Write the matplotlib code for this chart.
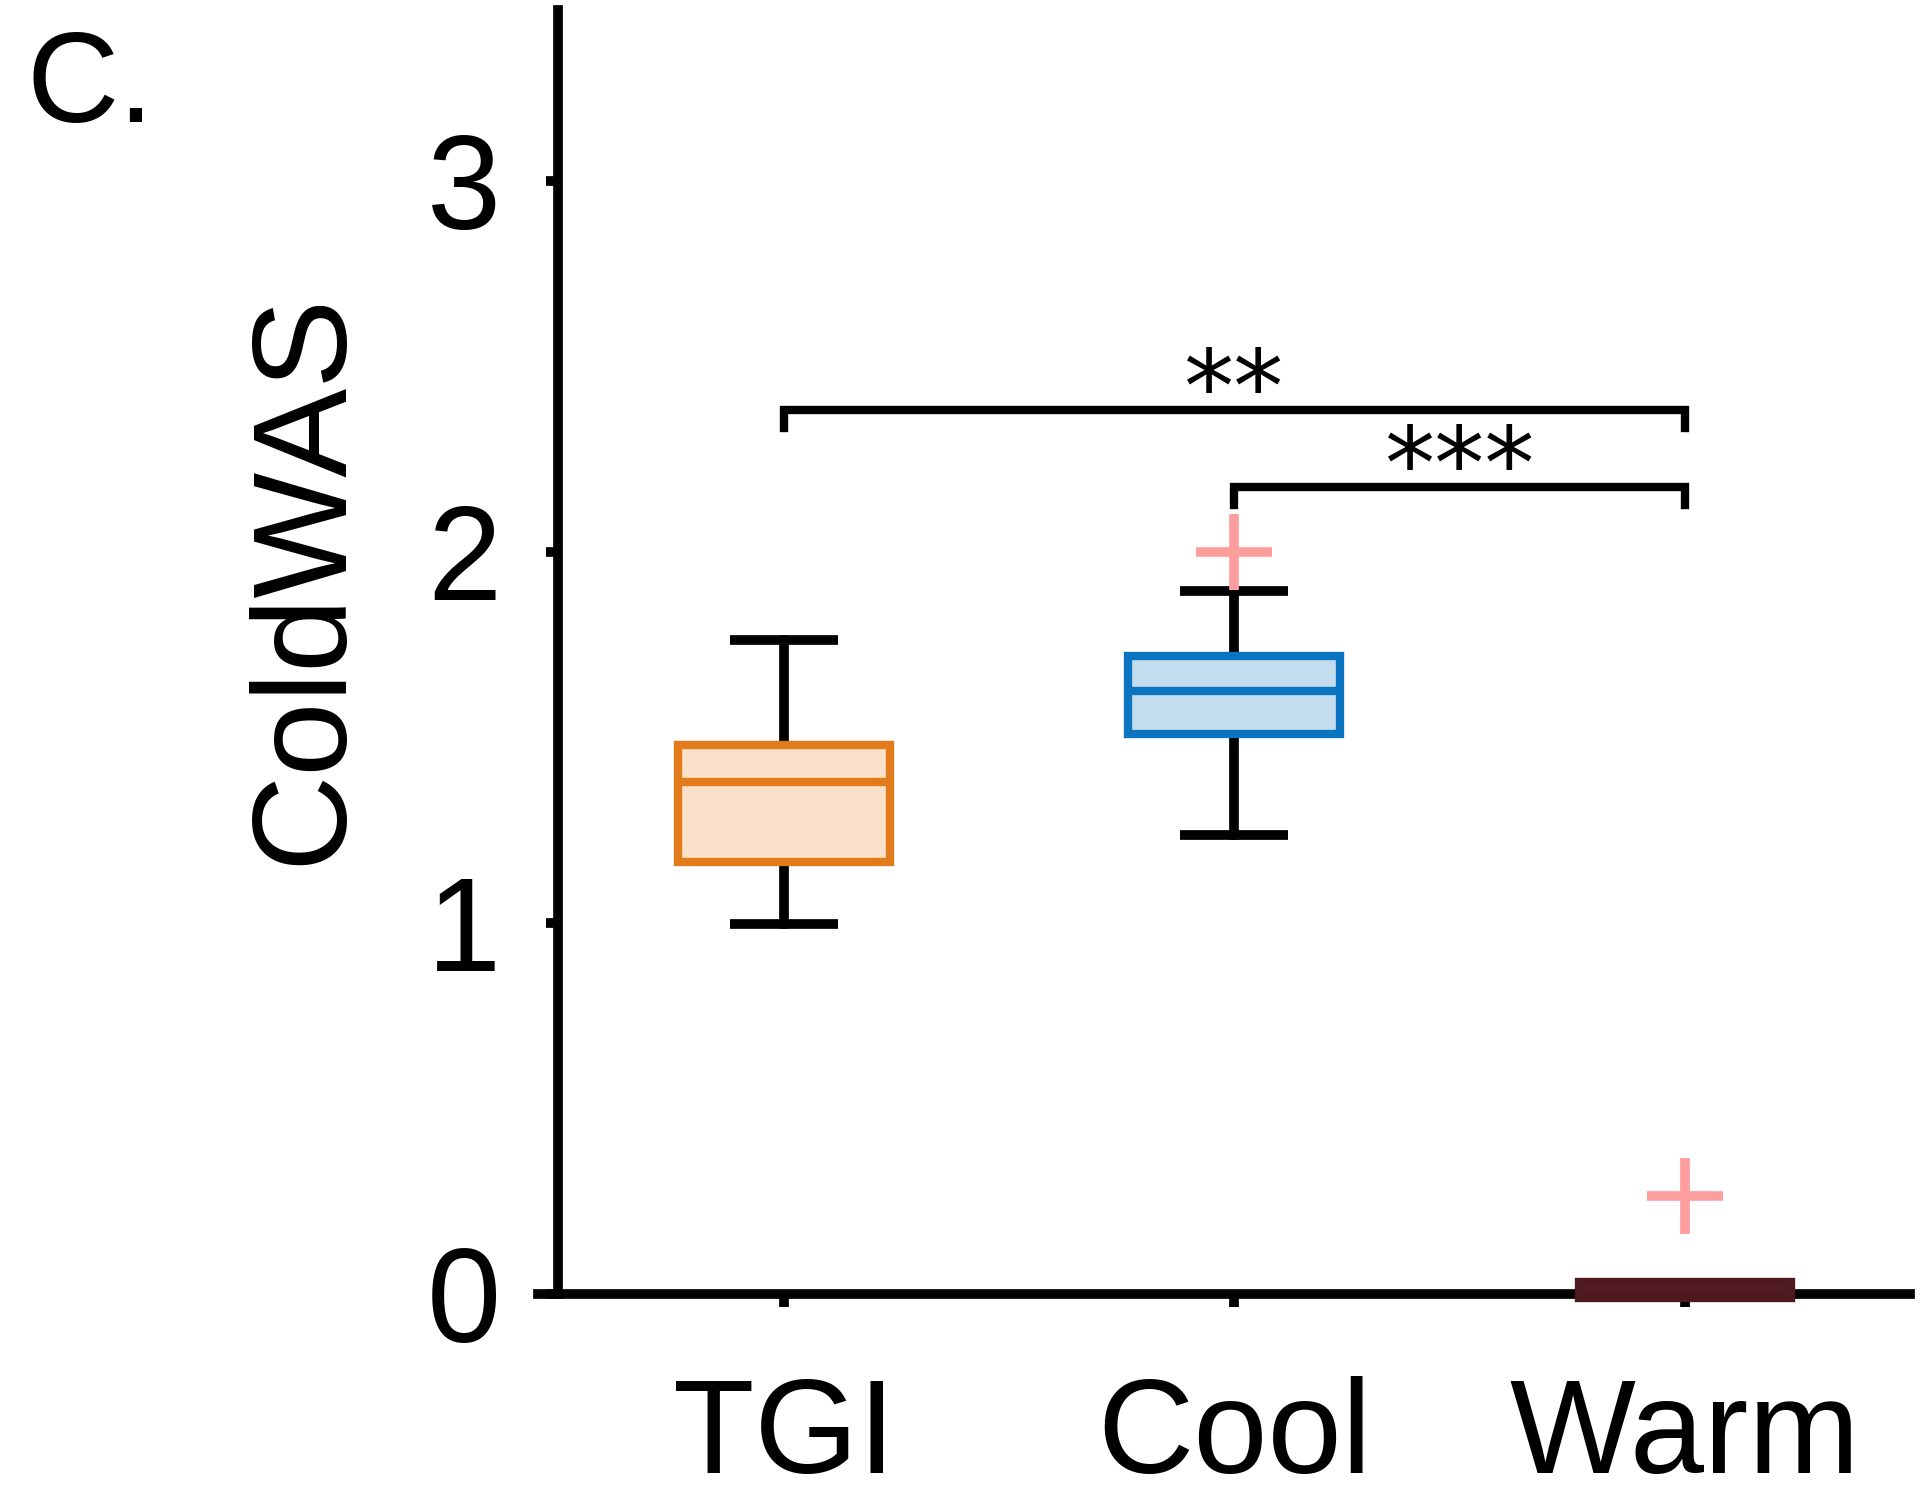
import matplotlib
matplotlib.use("Agg")
import matplotlib.pyplot as plt

plt.rcParams['font.family'] = ['Liberation Sans', 'DejaVu Sans']

# data
groups = ['TGI', 'Cool', 'Warm']
medians = [1.38, 1.625, 0.0]
q1 = [1.165, 1.51, -0.012]
q3 = [1.48, 1.72, 0.032]
whislo = [0.997, 1.237, 0.0]
whishi = [1.762, 1.895, 0.0]
fliers = [[], [2.0], [0.265]]

edge_cols = ['#E27B1C', '#0A74C0', '#4E1A20']
face_cols = ['#F9E0C8', '#C4DDEE', '#561C24']

# significance brackets: (x1, x2, y, label, label_x)
sig = [(1, 3, 2.383, '**', 2.0),
       (2, 3, 2.175, '***', 2.5)]

fig = plt.figure(figsize=(19.2, 15.06), dpi=100)
ax = fig.add_axes([0.2908, 0.1408, 0.7042, 0.8526])

stats = []
for i in range(3):
    stats.append(dict(med=medians[i], q1=q1[i], q3=q3[i], whislo=whislo[i],
                      whishi=whishi[i], fliers=fliers[i], label=groups[i]))

bp = ax.bxp(stats, positions=[1, 2, 3], widths=0.47, capwidths=0.24,
            patch_artist=True, showfliers=True)

for i in range(3):
    box = bp['boxes'][i]
    box.set_facecolor(face_cols[i])
    box.set_edgecolor(edge_cols[i])
    box.set_linewidth(6)
    box.set_zorder(4)
    box.set_clip_on(False)
    med = bp['medians'][i]
    med.set_color(edge_cols[i])
    med.set_linewidth(6)
    med.set_zorder(5)
    med.set_clip_on(False)
for w in bp['whiskers']:
    w.set_color('black')
    w.set_linewidth(7)
for c in bp['caps']:
    c.set_color('black')
    c.set_linewidth(7)
    c.set_solid_capstyle('butt')
for f in bp['fliers']:
    f.set_marker('+')
    f.set_markersize(55)
    f.set_markeredgewidth(7)
    f.set_markeredgecolor('#FF9E9E')

# warm group has no whiskers to speak of
for k in (4, 5):
    bp['whiskers'][k].set_visible(False)
    bp['caps'][k].set_visible(False)

for x1, x2, y, lab, lx in sig:
    ax.plot([x1, x1, x2, x2], [y - 0.05, y, y, y - 0.05], color='black',
            lw=6, solid_joinstyle='miter', clip_on=False)
    # asterisks sit high in the line box, so anchor them a bit under the bar
    ax.text(lx, y - 0.09, lab, ha='center', va='bottom', fontsize=72,
            family='DejaVu Sans')

ax.set_xlim(0.5, 3.5)
ax.set_ylim(0, 3.46)
ax.set_yticks([0, 1, 2, 3])
ax.set_xticks([1, 2, 3])
ax.set_xticklabels(groups)

for s in ['top', 'right']:
    ax.spines[s].set_visible(False)
for s in ['left', 'bottom']:
    ax.spines[s].set_linewidth(7)
ax.spines['bottom'].set_bounds(0.455, 3.5)

ax.tick_params(axis='both', direction='out', length=9, width=7, labelsize=96)
ax.tick_params(axis='y', pad=32)
ax.tick_params(axis='x', pad=50)

fig.text(0.159, 0.616, 'ColdWAS', rotation=90, ha='center', va='center', fontsize=96)
fig.text(0.014, 0.919, 'C.', ha='left', va='baseline', fontsize=92)

fig.savefig('out.png', dpi=100)
